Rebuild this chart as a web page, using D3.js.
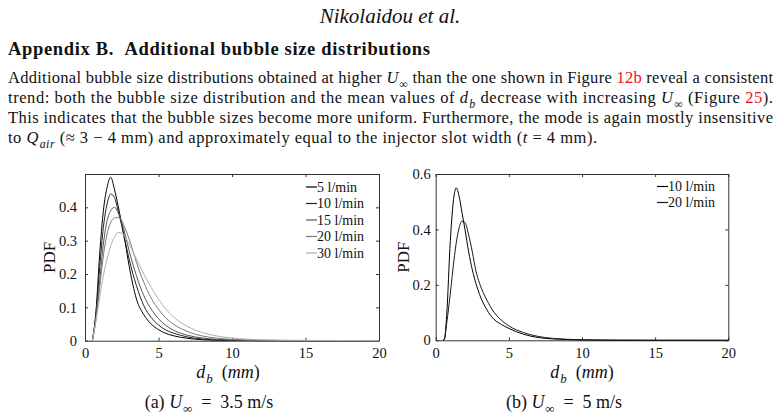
<!DOCTYPE html>
<html>
<head>
<meta charset="utf-8">
<script src="https://cdn.jsdelivr.net/npm/d3@7"></script>
<style>
  body { margin: 0; background: #fff; }
  svg { display: block; }
</style>
</head>
<body>
<svg id="fig" width="779" height="418"></svg>
<script>
// bubble diameter grid (mm) and PDF values
const dA = [0.5, 0.75, 1, 1.25, 1.5, 1.75, 2, 2.25, 2.5, 2.75, 3, 3.5, 4, 4.5, 5, 5.5, 6, 7, 8, 9, 10, 12, 15, 20];
const pdfA5  = [0, 0.09, 0.26, 0.39, 0.46, 0.49, 0.455, 0.405, 0.35, 0.29, 0.225, 0.125, 0.078, 0.05, 0.033, 0.022, 0.015, 0.007, 0.003, 0.0015, 0.001, 0.0003, 0, 0];
const pdfA10 = [0, 0.08, 0.22, 0.34, 0.41, 0.44, 0.43, 0.39, 0.345, 0.295, 0.245, 0.165, 0.105, 0.07, 0.047, 0.032, 0.023, 0.011, 0.005, 0.0025, 0.0013, 0.0004, 0.0001, 0];
const pdfA15 = [0, 0.07, 0.18, 0.29, 0.36, 0.39, 0.40, 0.385, 0.355, 0.315, 0.27, 0.195, 0.135, 0.095, 0.066, 0.046, 0.032, 0.016, 0.008, 0.004, 0.002, 0.0006, 0.0001, 0];
const pdfA20 = [0, 0.065, 0.16, 0.255, 0.32, 0.355, 0.368, 0.37, 0.36, 0.335, 0.305, 0.235, 0.175, 0.128, 0.094, 0.068, 0.05, 0.027, 0.014, 0.0075, 0.004, 0.0012, 0.0002, 0];
const pdfA30 = [0, 0.06, 0.13, 0.195, 0.245, 0.285, 0.31, 0.325, 0.322, 0.31, 0.29, 0.245, 0.2, 0.16, 0.125, 0.095, 0.072, 0.042, 0.024, 0.014, 0.008, 0.003, 0.001, 0];

const dB = [0.5, 0.6, 0.75, 1, 1.25, 1.4, 1.6, 1.8, 2, 2.25, 2.5, 2.75, 3, 3.5, 4, 4.5, 5, 6, 7, 8, 10, 12, 15, 20];
const pdfB10 = [0, 0.005, 0.09, 0.36, 0.52, 0.55, 0.52, 0.46, 0.40, 0.32, 0.255, 0.205, 0.165, 0.11, 0.075, 0.057, 0.043, 0.022, 0.01, 0.005, 0.0015, 0.0004, 0.0001, 0];
const pdfB20 = [0, 0.005, 0.06, 0.17, 0.29, 0.35, 0.405, 0.43, 0.425, 0.38, 0.32, 0.25, 0.205, 0.145, 0.1, 0.072, 0.052, 0.028, 0.014, 0.007, 0.002, 0.0006, 0.0001, 0];

const labelsA = ["5 l/min", "10 l/min", "15 l/min", "20 l/min", "30 l/min"];
const labelsB = ["10 l/min", "20 l/min"];
const xTicks = [0, 5, 10, 15, 20];
const yTicksA = [0, 0.1, 0.2, 0.3, 0.4];
const yTicksB = [0, 0.2, 0.4, 0.6];

const FONT = '"Liberation Serif", "Times New Roman", serif';
const svg = d3.select("#fig");

// text with italic / subscript / red pieces
function richText(x, y, parts, o) {
  const t = svg.append("text").attr("x", x).attr("y", y)
    .style("font-family", FONT).style("font-size", o.size + "px").style("fill", "#111");
  if (o.len) t.attr("textLength", o.len).attr("lengthAdjust", "spacing");
  if (o.anchor) t.attr("text-anchor", o.anchor);
  if (o.style) t.style("font-style", o.style);
  if (o.weight) t.style("font-weight", o.weight);
  let shift = 0;
  parts.forEach(p => {
    const s = typeof p === "string" ? p : p[0];
    const st = typeof p === "string" ? "" : p[1];
    const ts = t.append("tspan").text(s);
    const sub = st.includes("sub");
    const target = sub ? o.size * 0.28 : 0;
    if (target !== shift) { ts.attr("dy", target - shift); shift = target; }
    if (sub) ts.attr("dx", 0.8);
    if (st.split(" ").includes("i")) ts.style("font-style", "italic");
    if (sub) ts.style("font-size", (o.size * 0.72) + "px");
    if (st.includes("red")) ts.style("fill", "#ee1111");
  });
  return t;
}

richText(390, 23, ["Nikolaidou et al."], {size: 21, anchor: "middle", style: "italic"});
richText(8, 55, ["Appendix B.\u00a0\u00a0Additional bubble size distributions"], {size: 18.5, weight: "bold", len: 422});

const para = [
  ["Additional bubble size distributions obtained at higher ", ["U", "i"], ["∞", "sub"], " than the one shown in Figure ", ["12b", "red"], " reveal a consistent"],
  ["trend: both the bubble size distribution and the mean values of ", ["d", "i"], ["b", "i sub"], " decrease with increasing ", ["U", "i"], ["∞", "sub"], " (Figure ", ["25", "red"], ")."],
  ["This indicates that the bubble sizes become more uniform. Furthermore, the mode is again mostly insensitive"],
  ["to ", ["Q", "i"], ["air", "i sub"], " (≈ 3 − 4 mm) and approximately equal to the injector slot width (", ["t", "i"], " = 4 mm)."]
];
const paraLen = [765, 765, 765, 589];
para.forEach((p, i) => richText(8, 83.3 + i * 20, p, {size: 16.5, len: paraLen[i]}));

function panel(cfg) {
  const x = d3.scaleLinear().domain([0, 20]).range([cfg.x0, cfg.x1]);
  const y = d3.scaleLinear().domain([0, cfg.ymax]).range([cfg.y1, cfg.y0]);
  const g = svg.append("g");
  const style = a => a
    .call(s => s.selectAll("path, line").attr("stroke", "#333"))
    .call(s => s.selectAll("text").style("font-family", FONT).style("font-size", "14.5px").style("fill", "#111"));

  g.append("g").attr("transform", `translate(0,${cfg.y1})`)
    .call(d3.axisBottom(x).tickValues(xTicks).tickSizeInner(-3).tickSizeOuter(0).tickPadding(7.5))
    .call(style);
  g.append("g").attr("transform", `translate(0,${cfg.y0})`)
    .call(d3.axisTop(x).tickValues(xTicks).tickSizeInner(-3).tickSizeOuter(0).tickFormat(""))
    .call(style);
  g.append("g").attr("transform", `translate(${cfg.x0},0)`)
    .call(d3.axisLeft(y).tickValues(cfg.yTicks).tickSizeInner(-3).tickSizeOuter(0).tickPadding(cfg.ypad)
      .tickFormat(d => d === 0 ? "0" : d3.format(".1f")(d)))
    .call(style);
  g.append("g").attr("transform", `translate(${cfg.x1},0)`)
    .call(d3.axisRight(y).tickValues(cfg.yTicks).tickSizeInner(-3).tickSizeOuter(0).tickFormat(""))
    .call(style);

  const line = d3.line().x(d => x(d[0])).y(d => y(d[1])).curve(d3.curveMonotoneX);
  cfg.series.forEach((s, i) => {
    g.append("path")
      .datum(cfg.d.map((v, k) => [v, s[k]]))
      .attr("fill", "none")
      .attr("stroke", cfg.colors[i])
      .attr("stroke-width", 1)
      .attr("d", line);
  });

  // legend
  cfg.labels.forEach((lab, i) => {
    const ly = cfg.legY + i * cfg.legStep;
    g.append("line").attr("x1", cfg.legX).attr("x2", cfg.legX + 11)
      .attr("y1", ly - 4.5).attr("y2", ly - 4.5)
      .attr("stroke", cfg.colors[i]).attr("stroke-width", 1.2);
    g.append("text").attr("x", cfg.legX + 11).attr("y", ly)
      .style("font-family", FONT).style("font-size", "14px").style("fill", "#111").text(lab);
  });

  // y label
  g.append("text")
    .attr("transform", `translate(${cfg.ylabX},${(cfg.y0 + cfg.y1) / 2}) rotate(-90)`)
    .attr("text-anchor", "middle")
    .style("font-family", FONT).style("font-size", "17px").style("fill", "#111").text("PDF");

  // x label and caption
  richText(cfg.xlabX, 378, [["d", "i"], ["b", "i sub"], "\u2002(", ["mm", "i"], ")"], {size: 18, anchor: "middle"});
  richText(cfg.capX, 408, cfg.caption, {size: 18, anchor: "middle"});
}

panel({
  x0: 85, x1: 379, y0: 174, y1: 340.7, ymax: 0.5, yTicks: yTicksA, ypad: 8,
  d: dA, series: [pdfA5, pdfA10, pdfA15, pdfA20, pdfA30],
  colors: ["#000000", "#222222", "#555555", "#7a7a7a", "#b0b0b0"],
  labels: labelsA, legX: 306, legY: 191.5, legStep: 16.5,
  ylabX: 55, xlabX: 228, capX: 209,
  caption: ["(a) ", ["U", "i"], ["∞", "sub"], "\u2002=\u20023.5 m/s"]
});

panel({
  x0: 435.7, x1: 728.3, y0: 174, y1: 340.3, ymax: 0.6, yTicks: yTicksB, ypad: 5,
  d: dB, series: [pdfB10, pdfB20],
  colors: ["#000000", "#1a1a1a"],
  labels: labelsB, legX: 657, legY: 191, legStep: 16,
  ylabX: 409, xlabX: 582, capX: 564,
  caption: ["(b) ", ["U", "i"], ["∞", "sub"], "\u2002=\u20025 m/s"]
});
</script>
</body>
</html>
